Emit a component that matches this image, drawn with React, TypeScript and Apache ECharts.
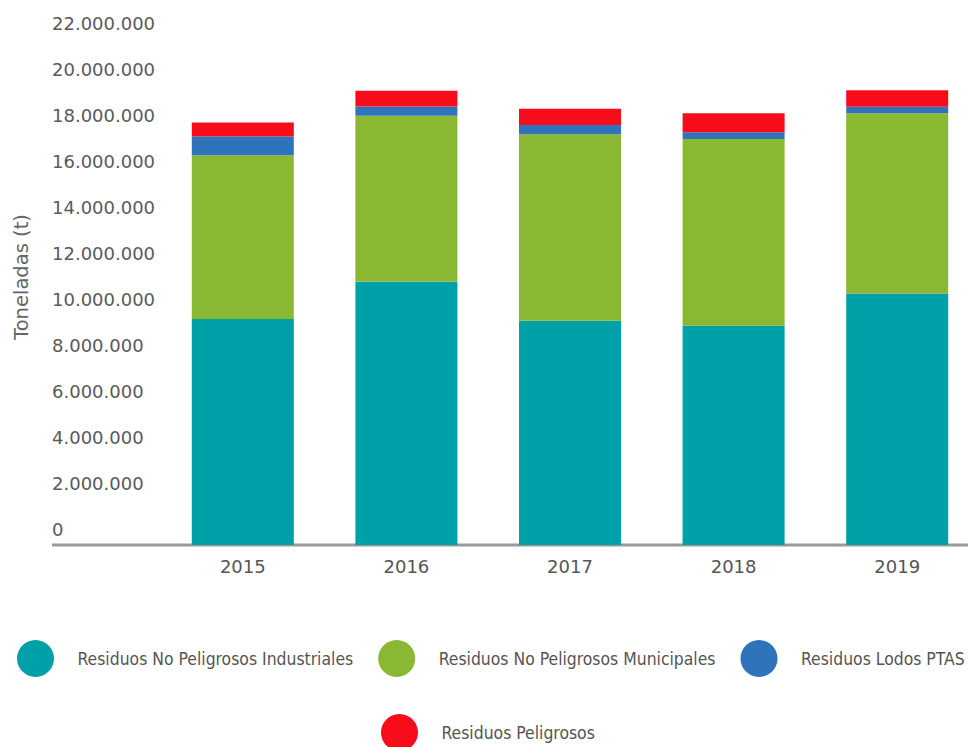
import React, { useEffect, useRef } from "react";
import * as echarts from "echarts";

const categories = ["2015", "2016", "2017", "2018", "2019"];
const industriales = [9830000, 11450000, 9750000, 9530000, 10940000];
const municipales = [7120000, 7210000, 8110000, 8120000, 7830000];
const lodos = [810000, 410000, 400000, 300000, 280000];
const peligrosos = [610000, 680000, 710000, 820000, 720000];

const seriesNames = [
  "Residuos No Peligrosos Industriales",
  "Residuos No Peligrosos Municipales",
  "Residuos Lodos PTAS",
  "Residuos Peligrosos",
];
const colors = ["#00A0A8", "#8AB833", "#2F74BA", "#F70C1C"];

const fmt = (v: number) =>
  String(Math.round(v)).replace(/\B(?=(\d{3})+(?!\d))/g, ".");

export default function App() {
  const ref = useRef<HTMLDivElement>(null);
  useEffect(() => {
    document.body.style.margin = "0";
    document.body.style.overflow = "hidden";
    if (!ref.current) return;
    const chart = echarts.init(ref.current, undefined, { renderer: "svg" });
    const labelFont = "'DejaVu Sans', sans-serif";
    const legendFont = "'DejaVu Sans Condensed', 'Liberation Sans Narrow', 'Roboto', sans-serif";
    const datasets = [industriales, municipales, lodos, peligrosos];
    const legendCommon = {
      orient: "horizontal",
      icon: "circle",
      itemWidth: 70,
      itemHeight: 37,
      itemGap: 25,
      padding: 0,
      textStyle: {
        color: "#555",
        fontSize: 17.4,
        fontFamily: legendFont,
        padding: [0, 0, 0, 2],
      },
      selectedMode: false,
    };
    chart.setOption({
      animation: false,
      backgroundColor: "#ffffff",
      color: colors,
      grid: {
        left: 161,
        top: 39,
        width: 818,
        height: 506,
        outerBoundsMode: "none",
        containLabel: false,
      },
      legend: [
        { ...legendCommon, data: seriesNames.slice(0, 3), left: 17, top: 640 },
        { ...legendCommon, data: seriesNames.slice(3), left: 381, top: 714 },
      ],
      xAxis: {
        type: "category",
        data: categories,
        axisLine: { show: false },
        axisTick: { show: false },
        axisLabel: {
          color: "#555",
          fontSize: 18,
          fontFamily: labelFont,
          margin: 12,
        },
      },
      yAxis: {
        type: "value",
        min: 0,
        max: 22000000,
        interval: 2000000,
        name: "Toneladas (t)",
        nameLocation: "middle",
        nameRotate: 90,
        nameGap: 130,
        nameTextStyle: {
          color: "#666",
          fontSize: 19.5,
          fontFamily: labelFont,
          padding: [0, 0, 0, 30],
        },
        axisLine: { show: false },
        axisTick: { show: false },
        splitLine: { show: false },
        axisLabel: {
          color: "#5a5a5a",
          fontSize: 18,
          fontFamily: labelFont,
          align: "left",
          margin: 109,
          verticalAlign: "bottom",
          padding: [0, 0, 7, 0],
          formatter: (v: number) => fmt(v),
        },
      },
      graphic: [
        {
          type: "line",
          z: -1,
          shape: { x1: 52, y1: 545, x2: 968, y2: 545 },
          style: { stroke: "#9a9a9a", lineWidth: 3 },
        },
      ],
      series: seriesNames.map((name, i) => ({
        name,
        type: "bar",
        stack: "total",
        barWidth: 102,
        data: datasets[i],
        itemStyle: { color: colors[i] },
        z: 3,
      })),
    });
    return () => chart.dispose();
  }, []);
  return <div ref={ref} style={{ width: 990, height: 747 }} />;
}
